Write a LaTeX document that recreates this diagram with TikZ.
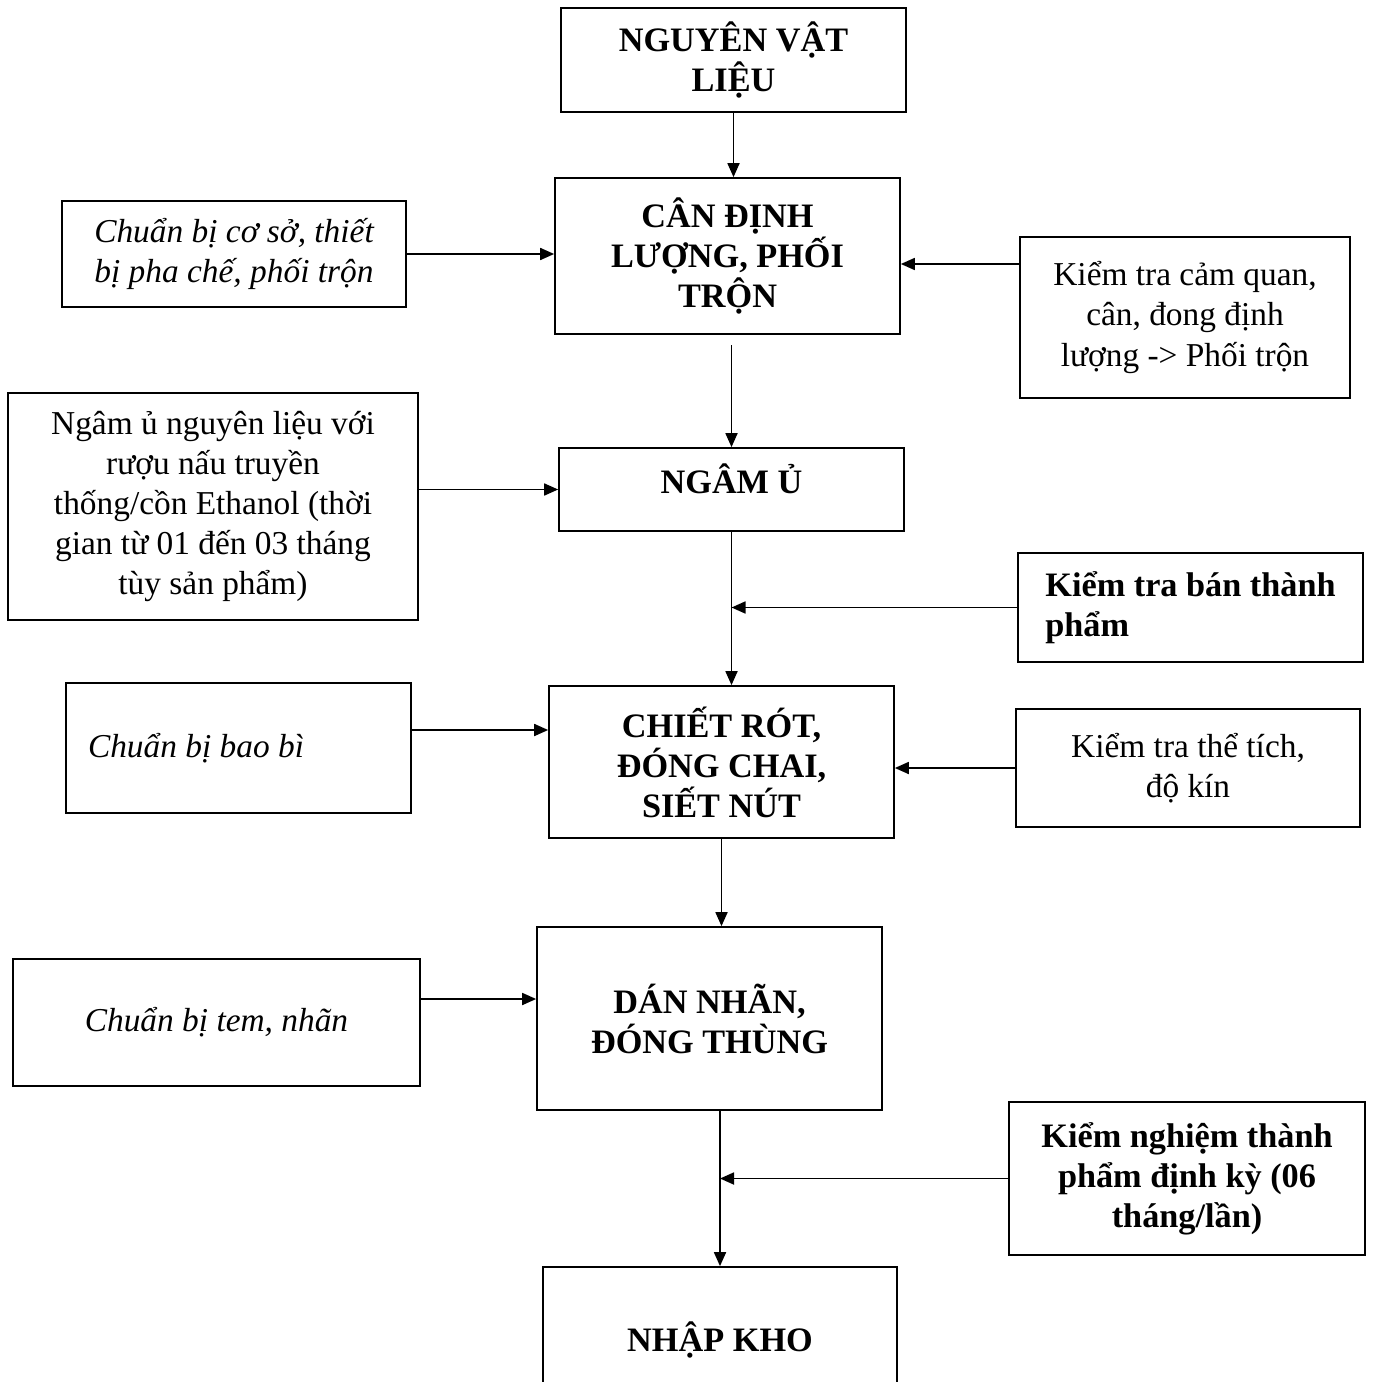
\documentclass[tikz,border=0pt]{standalone}
\usepackage{fontspec}
\setmainfont{Liberation Serif}
\usetikzlibrary{arrows.meta,positioning,calc}
\tikzset{
  box/.style={draw, line width=1pt, align=center, inner sep=2pt,
              font=\fontsize{19}{22.8}\selectfont},
  stepbox/.style={box, font=\fontsize{19.5}{22.8}\selectfont\bfseries},
  prepbox/.style={box, font=\fontsize{19}{22.8}\selectfont\itshape},
  checkbox/.style={box, font=\fontsize{19.5}{22.8}\selectfont\bfseries},
  arrow/.style={-{Triangle[length=0.28cm,width=0.24cm]}, line width=1pt}
}
\begin{document}
\begin{tikzpicture}[x=0.02cm, y=-0.02cm]
\clip (0,0) rectangle (1373,1382);
\node[stepbox, minimum width=6.9cm, minimum height=2.08cm] (nvl) at (733.5,60) {NGUYÊN VẬT\\LIỆU};
\node[stepbox, minimum width=6.9cm, minimum height=3.12cm] (cdl) at (727.5,256) {CÂN ĐỊNH\\LƯỢNG, PHỐI\\TRỘN};
\node[prepbox, minimum width=6.88cm, minimum height=2.12cm] (cbcs) at (234,254) {Chuẩn bị cơ sở, thiết\\bị pha chế, phối trộn};
\node[box, minimum width=6.6cm, minimum height=3.22cm] (ktcq) at (1185,317.5) {Kiểm tra cảm quan,\\cân, đong định\\lượng -> Phối trộn};
\node[box, minimum width=8.2cm, minimum height=4.54cm] (ngamnl) at (213,506.5) {Ngâm ủ nguyên liệu với\\rượu nấu truyền\\thống/cồn Ethanol (thời\\gian từ 01 đến 03 tháng\\tùy sản phẩm)};
\node[stepbox, text depth=0.44cm, minimum width=6.9cm, minimum height=1.66cm] (ngamu) at (731.5,489.5) {NGÂM Ủ};
\node[checkbox, align=flush left, minimum width=6.9cm, minimum height=2.18cm] (ktbtp) at (1190.5,607.5) {Kiểm tra bán thành\\phẩm};
\node[stepbox, minimum width=6.9cm, minimum height=3.04cm] (chiet) at (721.5,762) {CHIẾT RÓT,\\ĐÓNG CHAI,\\SIẾT NÚT};
\node[prepbox, align=flush left, text width=6.02cm, inner xsep=0.44cm, minimum height=2.6cm] (cbbb) at (238.5,748) {Chuẩn bị bao bì};
\node[box, minimum width=6.88cm, minimum height=2.36cm] (kttt) at (1188,768) {Kiểm tra thể tích,\\độ kín};
\node[stepbox, minimum width=6.9cm, minimum height=3.66cm] (dan) at (709.5,1018.5) {DÁN NHÃN,\\ĐÓNG THÙNG};
\node[prepbox, minimum width=8.14cm, minimum height=2.54cm] (cbtem) at (216.5,1022.5) {Chuẩn bị tem, nhãn};
\node[checkbox, minimum width=7.12cm, minimum height=3.06cm] (kn) at (1187,1178.5) {Kiểm nghiệm thành\\phẩm định kỳ (06\\tháng/lần)};
\node[stepbox, minimum width=7.08cm, minimum height=2.92cm] (nk) at (720,1340) {NHẬP KHO};
\coordinate (j1) at (ngamu.south |- ktbtp.west);
\coordinate (j2) at (nk.north |- kn.west);
\draw[arrow] (nvl.south) -- (nvl.south |- cdl.north);
\draw[arrow] (cbcs.east) -- (cbcs.east -| cdl.west);
\draw[arrow] (ktcq.west |- 0,264) -- (cdl.east |- 0,264);
\draw[arrow] (ngamu.north |- 0,345) -- (ngamu.north);
\draw[arrow] (ngamnl.east |- ngamu.west) -- (ngamu.west);
\draw[arrow] (ngamu.south) -- (ngamu.south |- chiet.north);
\draw[arrow] (ktbtp.west) -- (j1);
\draw[arrow] (cbbb.east |- 0,730) -- (chiet.west |- 0,730);
\draw[arrow] (kttt.west) -- (kttt.west -| chiet.east);
\draw[arrow] (chiet.south) -- (chiet.south |- dan.north);
\draw[arrow] (cbtem.east |- 0,999) -- (dan.west |- 0,999);
\draw[arrow] (nk.north |- dan.south) -- (nk.north);
\draw[arrow] (kn.west) -- (j2);
\end{tikzpicture}
\end{document}
